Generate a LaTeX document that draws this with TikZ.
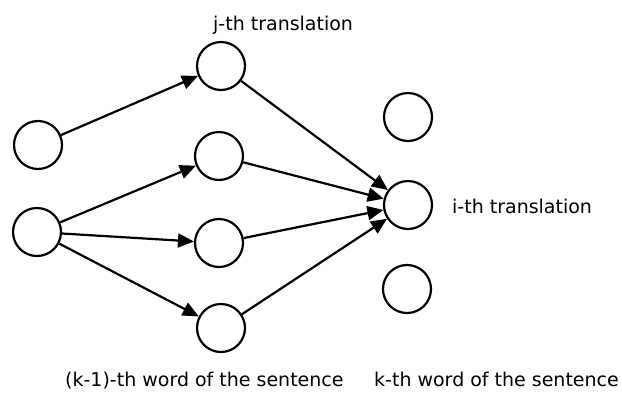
\documentclass[tikz,border=0pt]{standalone}
\usepackage{fontspec}
\setmainfont{DejaVu Sans}
\usetikzlibrary{arrows.meta}
\begin{document}
\begin{tikzpicture}[x=1pt,y=-1pt,
  neuron/.style={circle,draw,line width=2.2pt,minimum size=48pt,inner sep=0pt},
  conn/.style={line width=2.2pt,-{Triangle[length=16pt,width=14pt]}},
  lbl/.style={font=\fontsize{19}{23}\selectfont,inner sep=0pt,anchor=base west}]
\useasboundingbox (0,0) rectangle (622,392);
\node[neuron] (l1) at (38,145) {};
\node[neuron] (l2) at (37,232) {};
\node[neuron] (m1) at (221,66) {};
\node[neuron] (m2) at (219,156) {};
\node[neuron] (m3) at (219,243) {};
\node[neuron] (m4) at (221,328) {};
\node[neuron] (r1) at (408,117) {};
\node[neuron] (r2) at (408,205) {};
\node[neuron] (r3) at (407,289) {};
\draw[conn] (l1) -- (m1);
\draw[conn] (l2) -- (m2);
\draw[conn] (l2) -- (m3);
\draw[conn] (l2) -- (m4);
\draw[conn] (m1) -- (r2);
\draw[conn] (m2) -- (r2);
\draw[conn] (m3) -- (r2);
\draw[conn] (m4) -- (r2);
\node[lbl] (tj) at (213,30) {j-th translation};
\node[lbl] (ti) at (452,213) {i-th translation};
\node[lbl] (tk1) at (65,386) {(k-1)-th word of the sentence};
\node[lbl] (tk) at (374,386) {k-th word of the sentence};
\end{tikzpicture}
\end{document}
